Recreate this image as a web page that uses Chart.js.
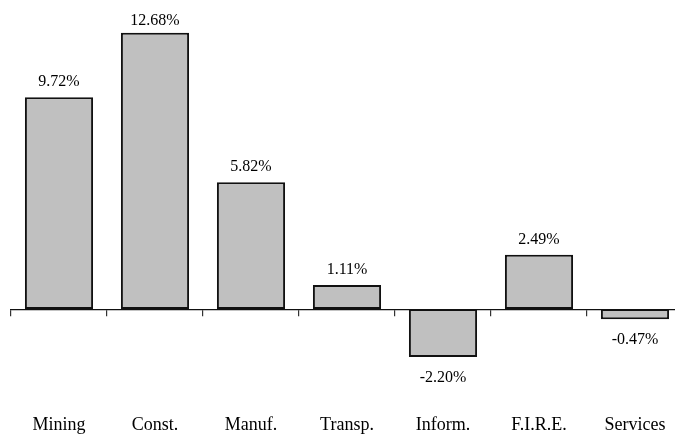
<!DOCTYPE html>
<html>
<head>
<meta charset="utf-8">
<title>Growth by industry</title>
<script src="https://cdn.jsdelivr.net/npm/chart.js@4/dist/chart.umd.min.js"></script>
<style>
  html, body { margin: 0; padding: 0; background: #fff; overflow: hidden; }
  #frame { width: 675px; height: 434px; overflow: hidden; position: relative; }
  #wrap { width: 700px; height: 434px; position: absolute; left: 0; top: 0; }
</style>
</head>
<body>
<div id="frame"><div id="wrap"><canvas id="chart"></canvas></div></div>
<script>
// Industry sectors and their percentage change
const categories = ['Mining', 'Const.', 'Manuf.', 'Transp.', 'Inform.', 'F.I.R.E.', 'Services'];
const changes = [9.72, 12.68, 5.82, 1.11, -2.20, 2.49, -0.47];
const valueLabels = ['9.72%', '12.68%', '5.82%', '1.11%', '-2.20%', '2.49%', '-0.47%'];

Chart.defaults.font.family = "'Liberation Serif', 'Times New Roman', serif";
Chart.defaults.color = '#000';

// Writes each bar's value above (or below, for negatives) the bar
const barValueLabels = {
  id: 'barValueLabels',
  afterDatasetsDraw(chart) {
    const ctx = chart.ctx;
    const meta = chart.getDatasetMeta(0);
    ctx.save();
    ctx.font = "16px 'Liberation Serif', 'Times New Roman', serif";
    ctx.fillStyle = '#000';
    ctx.textAlign = 'center';
    ctx.textBaseline = 'alphabetic';
    meta.data.forEach((bar, i) => {
      const v = changes[i];
      let y;
      if (v >= 0) {
        y = Math.max(bar.y - 11, 25);
      } else {
        y = bar.y + 25;
      }
      ctx.fillText(valueLabels[i], bar.x, y);
    });
    ctx.restore();
  }
};

new Chart(document.getElementById('chart'), {
  type: 'bar',
  data: {
    labels: categories,
    datasets: [{
      data: changes,
      backgroundColor: '#c0c0c0',
      borderColor: '#111',
      borderWidth: 2,
      borderSkipped: false,
      categoryPercentage: 1.0,
      barPercentage: 0.71
    }]
  },
  options: {
    responsive: true,
    maintainAspectRatio: false,
    animation: false,
    devicePixelRatio: 1,
    layout: { padding: { left: 11, right: 17, top: 4, bottom: 0 } },
    plugins: {
      legend: { display: false },
      tooltip: { enabled: false }
    },
    scales: {
      y: {
        display: false,
        min: -4,
        max: 14
      },
      x: {
        position: 'bottom',
        grid: { display: false },
        border: { display: false },
        ticks: {
          padding: 10,
          font: { size: 18 },
          color: '#000'
        },
        afterFit(scale) { scale.height = 37.7; }
      },
      // Zero baseline with tick marks between categories
      xZero: {
        type: 'category',
        position: { y: 0 },
        offset: true,
        grid: {
          display: true,
          offset: true,
          drawOnChartArea: false,
          drawTicks: true,
          tickLength: 6,
          color: '#333',
          lineWidth: 1.2
        },
        border: { display: true, color: '#111', width: 1.2 },
        ticks: { display: false }
      }
    }
  },
  plugins: [barValueLabels]
});
</script>
</body>
</html>
